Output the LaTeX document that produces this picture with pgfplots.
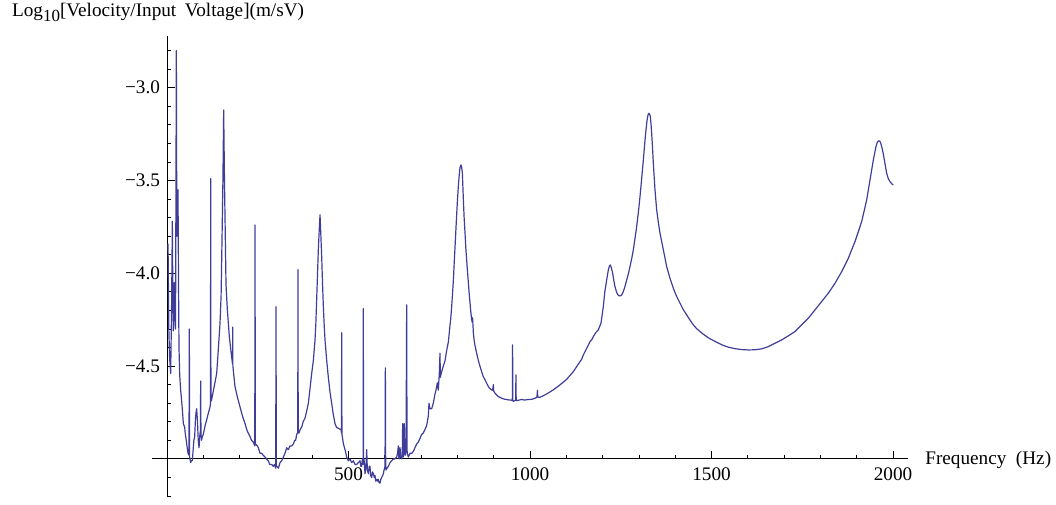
\documentclass[border=0pt]{standalone}
\usepackage{fontspec}
\setmainfont{Liberation Serif}
\usepackage{pgfplots}
\usepackage{pgfplotstable}
\pgfplotsset{compat=1.18}
\definecolor{mma}{rgb}{0.247,0.24,0.6}
\pgfplotstableread{
f v
2.8 -3.84
5 -4.30
7 -4.45
10.1 -4.54
12.5 -4.20
14.7 -3.72
16 -4.10
17.4 -4.31
19 -4.20
20.2 -4.05
21 -4.15
22.0 -4.25
23.5 -4.30
25.7 -2.80
27 -3.80
28.5 -3.74
29.5 -3.80
30.3 -3.55
31.5 -4.00
33 -4.40
35 -4.55
37.6 -4.63
40 -4.68
42.5 -4.74
45 -4.81
48.7 -4.83
50 -4.86
52.3 -4.89
55 -4.93
57.9 -4.97
60.5 -4.98
61.5 -4.30
62.3 -4.99
65.2 -5.02
67 -5.01
69.8 -5.01
72 -4.95
74 -4.90
76.2 -4.88
78.5 -4.78
80 -4.75
81.7 -4.73
84 -4.80
86 -4.90
88.2 -4.94
90 -4.88
92 -4.85
92.7 -4.58
93.5 -4.86
95 -4.90
97.3 -4.88
99.5 -4.87
101.9 -4.85
105 -4.82
109.2 -4.79
113 -4.76
118.5 -4.72
119.8 -4.70
120.3 -3.49
121 -4.69
123 -4.68
127 -4.64
131 -4.60
136.8 -4.54
141 -4.42
146 -4.27
149 -4.12
151.5 -3.82
154 -3.50
156.1 -3.12
158.3 -3.50
160.7 -3.82
162.5 -4.06
166 -4.19
171.6 -4.34
176.2 -4.42
180.5 -4.49
181 -4.29
181.5 -4.50
183 -4.53
187.3 -4.61
193 -4.66
201.1 -4.72
208 -4.77
214.9 -4.81
221 -4.85
228.7 -4.88
233 -4.90
237.9 -4.91
241.8 -4.93
242.5 -3.74
243.2 -4.92
244.3 -4.92
248.9 -4.93
251.6 -4.94
256.2 -4.97
260.8 -4.97
265 -4.98
269.9 -4.99
274 -5.00
279.1 -5.01
283 -5.03
288.3 -5.03
292.9 -5.04
296 -5.03
299.5 -5.05
300.3 -4.18
301.1 -5.04
303.0 -5.04
307 -5.05
311.3 -5.02
316 -5.01
320.5 -4.99
325 -4.97
329.7 -4.94
334 -4.95
338.8 -4.93
343 -4.93
348.0 -4.92
352 -4.90
354.4 -4.90
357 -4.87
359.0 -4.86
360.2 -4.86
360.8 -3.98
361.4 -4.86
363.6 -4.86
367 -4.84
370.9 -4.83
375 -4.80
380.2 -4.78
385 -4.74
389.3 -4.70
394 -4.62
398.5 -4.54
403.1 -4.47
407.7 -4.36
410 -4.27
412.3 -4.14
414.5 -4.01
416.9 -3.87
419.5 -3.76
421.5 -3.685
423.5 -3.78
426.1 -3.91
428.5 -4.06
430.7 -4.18
433 -4.28
435.3 -4.36
439.9 -4.47
444.4 -4.56
449 -4.64
453.6 -4.70
458 -4.76
462.8 -4.81
467 -4.83
472.0 -4.835
476 -4.84
479.3 -4.84
480.5 -4.86
481.2 -4.32
481.9 -4.87
483.0 -4.88
486 -4.92
490.4 -4.95
495.0 -4.99
499.5 -5.01
504.1 -5.00
508.7 -5.02
513.3 -5.01
518 -5.03
522.5 -5.03
527 -5.02
531.7 -5.01
534 -5.04
536.3 -5.04
538 -5.00
540.2 -5.03
540.8 -4.19
541.4 -5.02
542.7 -5.00
545.5 -5.08
548 -5.04
550.1 -4.95
551.9 -5.06
554.7 -5.08
557 -5.04
559.2 -5.04
561 -5.09
563.8 -5.10
566 -5.07
568.4 -5.08
571 -5.10
573.0 -5.09
575 -5.12
577.6 -5.11
580 -5.12
582.2 -5.11
584.5 -5.13
586.8 -5.13
589 -5.11
591.4 -5.10
594 -5.09
596.0 -5.08
598 -5.06
600.6 -5.04
601.5 -4.51
602.4 -5.05
603.3 -5.06
606 -5.05
609.7 -5.04
614.3 -5.02
619 -5.01
623.5 -5.00
628 -5.00
632.7 -4.99
635 -4.97
637.3 -4.93
638.5 -4.99
640.0 -5.00
641.9 -4.94
644 -4.99
646.4 -5.00
648 -4.98
649.2 -4.81
650.2 -4.99
651.0 -4.99
652.5 -4.95
653.8 -4.81
655 -4.97
656.5 -4.98
658.5 -4.95
660.2 -4.17
661.2 -4.95
662.0 -4.97
664.8 -4.99
669.4 -4.97
674 -4.97
678.5 -4.96
683 -4.94
687.7 -4.92
692 -4.91
696.9 -4.89
701 -4.87
706.1 -4.86
711 -4.84
715.3 -4.82
719.8 -4.77
721.7 -4.70
724.4 -4.73
729.0 -4.73
733.6 -4.70
738.2 -4.65
741.0 -4.63
744.6 -4.59
747.4 -4.63
750.1 -4.54
752.0 -4.43
753.0 -4.56
756.6 -4.53
761.2 -4.50
766 -4.47
770 -4.42
775.0 -4.37
779.6 -4.28
781.4 -4.25
784.2 -4.18
786.5 -4.11
788.8 -4.04
791 -3.95
793.4 -3.86
795.7 -3.77
798.0 -3.68
800.3 -3.60
802.6 -3.53
805 -3.47
807.2 -3.43
809.9 -3.416
811.8 -3.43
813.6 -3.46
815 -3.53
816.3 -3.60
818.5 -3.70
820.9 -3.78
823 -3.86
825.5 -3.93
827.8 -3.99
830.1 -4.05
832.5 -4.11
834.7 -4.16
837 -4.21
839.3 -4.25
841.1 -4.265
841.8 -4.24
843.9 -4.32
846 -4.36
848.5 -4.39
853 -4.43
857.7 -4.47
862 -4.50
866.8 -4.53
871 -4.555
876.0 -4.574
880 -4.59
885.2 -4.61
889 -4.62
894.4 -4.628
897 -4.63
899.0 -4.60
900 -4.635
903.6 -4.646
908 -4.655
912.7 -4.664
917 -4.668
921.9 -4.673
926 -4.676
931.1 -4.679
935 -4.68
940.3 -4.682
945 -4.683
951.3 -4.684
952.0 -4.386
952.7 -4.686
954.0 -4.69
957 -4.686
960.5 -4.684
961.2 -4.547
961.9 -4.684
963.2 -4.686
970 -4.683
977.0 -4.680
985 -4.683
995.4 -4.680
1004.6 -4.679
1013.8 -4.673
1019 -4.668
1020.5 -4.63
1021.3 -4.667
1022.9 -4.668
1027.5 -4.668
1032 -4.664
1041 -4.655
1046 -4.650
1064.3 -4.628
1082.6 -4.601
1101.0 -4.571
1119.3 -4.530
1128.5 -4.503
1137.7 -4.476
1142.3 -4.463
1146.9 -4.440
1156.1 -4.404
1160 -4.39
1165.2 -4.368
1169.8 -4.359
1174.4 -4.341
1181 -4.32
1188.2 -4.305
1195.5 -4.269
1202.0 -4.179
1206 -4.10
1211.2 -4.036
1215.8 -3.982
1218.5 -3.962
1221.3 -3.955
1224 -3.970
1227.7 -4.000
1231 -4.040
1234.1 -4.072
1237.5 -4.095
1240.6 -4.111
1244 -4.120
1247.9 -4.122
1252 -4.118
1257.1 -4.098
1261.5 -4.072
1266.3 -4.036
1271 -4.003
1275.4 -3.964
1280 -3.922
1284.6 -3.874
1289 -3.815
1293.8 -3.748
1298.5 -3.672
1303.0 -3.587
1307.5 -3.492
1312.2 -3.389
1316 -3.300
1319.5 -3.227
1322.5 -3.175
1325.0 -3.147
1327.8 -3.138
1329.5 -3.142
1331.5 -3.156
1333.3 -3.195
1335.1 -3.245
1337.4 -3.320
1339.7 -3.407
1342 -3.480
1344.3 -3.551
1348.9 -3.658
1353.5 -3.725
1358.1 -3.784
1367.3 -3.874
1376.5 -3.964
1385.6 -4.027
1394.8 -4.081
1404 -4.125
1413.2 -4.161
1422 -4.195
1431.6 -4.224
1440 -4.25
1449.9 -4.278
1459 -4.298
1468.3 -4.314
1478 -4.329
1486.7 -4.341
1495 -4.352
1505.0 -4.362
1515 -4.372
1523.4 -4.380
1528.0 -4.385
1546.3 -4.398
1564.7 -4.406
1583.1 -4.411
1601.4 -4.413
1619.8 -4.412
1638.2 -4.407
1656.5 -4.395
1674.9 -4.377
1693.3 -4.359
1711.6 -4.337
1730.0 -4.314
1739.2 -4.296
1748.4 -4.278
1766.7 -4.242
1785.1 -4.197
1803.5 -4.152
1821.8 -4.107
1840.2 -4.054
1858.6 -3.991
1876.9 -3.919
1895.3 -3.829
1913.7 -3.721
1927.4 -3.605
1936.6 -3.497
1945.8 -3.389
1953.1 -3.317
1956.5 -3.295
1959.6 -3.287
1963.2 -3.287
1966 -3.298
1968.8 -3.317
1972.5 -3.350
1976.1 -3.389
1982.5 -3.461
1987 -3.49
1991.7 -3.506
1996 -3.517
2000.9 -3.524
}\datatable
\begin{document}
\begin{tikzpicture}[font=\fontsize{9.6}{11.5}\selectfont]
\begin{axis}[
  x=0.1815pt, y=92.8pt,
  xmin=-40, xmax=2041, ymin=-0.207, ymax=2.28,
  axis lines=middle,
  axis line style={black, line width=0.5pt, -},
  tick align=inside,
  xtick={500,1000,1500,2000},
  xticklabels={500,1000,1500,2000},
  minor xtick={100,200,300,400,600,700,800,900,1100,1200,1300,1400,1600,1700,1800,1900},
  ytick={0.5,1,1.5,2},
  yticklabels={−4.5,−4.0,−3.5,−3.0},
  minor ytick={-0.2,-0.1,0.1,0.2,0.3,0.4,0.6,0.7,0.8,0.9,1.1,1.2,1.3,1.4,1.6,1.7,1.8,1.9,2.1,2.2},
  major tick length=3.85pt, minor tick length=2.15pt,
  tick style={black, line width=0.4pt},
  xticklabel style={anchor=north, yshift=-1pt},
  yticklabel style={anchor=east},
  clip=false,
]
\addplot[mma, line width=0.6pt, line join=round] table[x=f, y expr=\thisrow{v}+5] {\datatable};
\node[anchor=base west, inner sep=0pt] at (axis cs:-427.8,2.381) {Log\raisebox{-2.5pt}{\fontsize{8.5}{10}\selectfont 10}[Velocity/Input\hspace{0.45em}Voltage](m/sV)};
\node[anchor=base west, inner sep=0pt] at (axis cs:2088,-0.029) {Frequency\hspace{0.5em}(Hz)};
\path (axis cs:-460.1,2.4725) rectangle (axis cs:2449,-0.243);
\end{axis}
\end{tikzpicture}
\end{document}
